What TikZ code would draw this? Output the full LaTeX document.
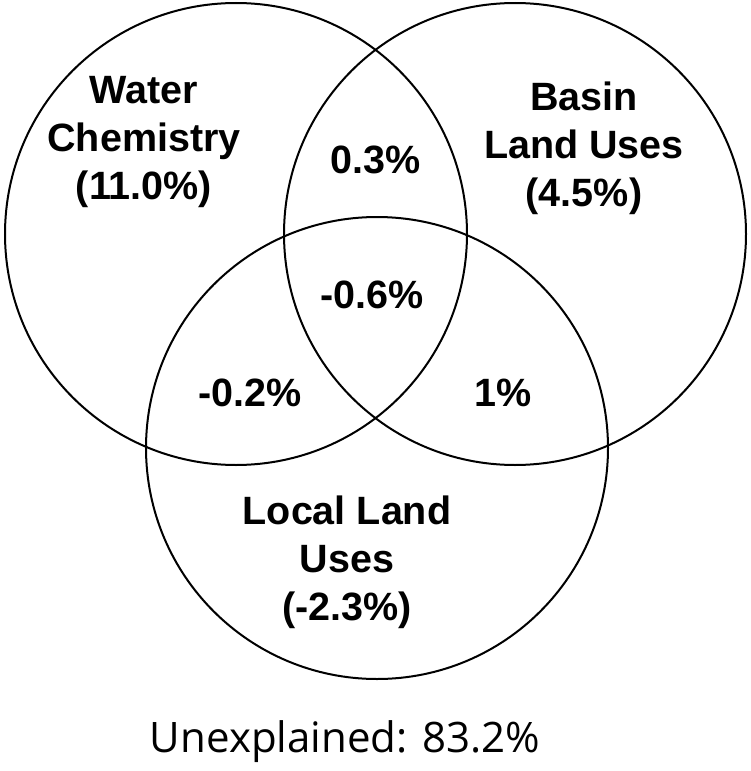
\documentclass[tikz,border=0pt]{standalone}
\usepackage{fontspec}
\setmainfont{Liberation Sans}
\newfontfamily\plainfont{Open Sans}
\begin{document}
\begin{tikzpicture}[x=1pt,y=-1pt,
  setcircle/.style={circle,draw=black,line width=2pt,minimum size=462pt,inner sep=0pt},
  lbl/.style={align=center,font=\fontsize{39.5}{48}\selectfont\bfseries,inner sep=0pt},
  note/.style={font=\plainfont\fontsize{42}{48}\selectfont,inner sep=0pt}]
\useasboundingbox (0,0) rectangle (750,771);
\node[setcircle] (wc) at (236,234) {};
\node[setcircle] (blu) at (515,234) {};
\node[setcircle] (llu) at (377,448) {};
\node[lbl] (wct) at (144,142) {Water\\Chemistry\\(11.0\%)};
\node[lbl] (blut) at (584,148) {Basin\\Land Uses\\(4.5\%)};
\node[lbl] (llut) at (347,562) {Local Land\\Uses\\(-2.3\%)};
\node[lbl] (ab) at (376,160) {0.3\%};
\node[lbl] (abc) at (372,295) {-0.6\%};
\node[lbl] (ac) at (250,393) {-0.2\%};
\node[lbl] (bc) at (503,393) {1\%};
\node[note] (unexp) at (345,742) {Unexplained: 83.2\%};
\end{tikzpicture}
\end{document}
